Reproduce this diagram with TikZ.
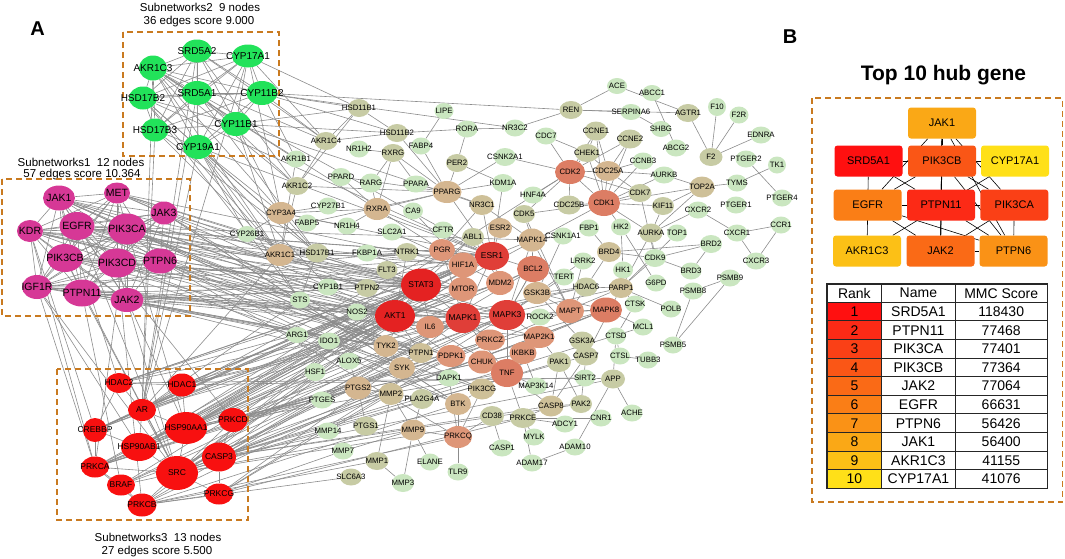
\documentclass[tikz,border=0pt]{standalone}
\usepackage{fontspec}
\setmainfont{Liberation Sans}
\usetikzlibrary{shapes.geometric}
\pgfdeclarelayer{bg}
\pgfsetlayers{bg,main}
\definecolor{kg2}{RGB}{34,226,90}
\definecolor{km1}{RGB}{214,56,150}
\definecolor{kr3}{RGB}{248,16,16}
\definecolor{klg}{RGB}{202,230,192}
\definecolor{kol}{RGB}{199,203,164}
\definecolor{ktan}{RGB}{212,182,144}
\definecolor{kot}{RGB}{206,192,152}
\definecolor{ksa}{RGB}{222,150,120}
\definecolor{ksb}{RGB}{220,125,100}
\definecolor{kra}{RGB}{228,34,34}
\definecolor{krb}{RGB}{224,62,56}
\definecolor{kbox}{RGB}{201,122,32}
\definecolor{kedge}{RGB}{140,140,140}
\definecolor{kr1}{RGB}{255,16,16}
\definecolor{kr2}{RGB}{252,42,22}
\definecolor{kr3b}{RGB}{250,64,22}
\definecolor{kr4}{RGB}{250,86,22}
\definecolor{kr5}{RGB}{250,106,22}
\definecolor{kr6}{RGB}{250,126,22}
\definecolor{kr7}{RGB}{250,146,22}
\definecolor{kr8}{RGB}{250,168,22}
\definecolor{kr9}{RGB}{252,192,22}
\definecolor{kr10}{RGB}{255,224,24}
\newcommand\fsz[1]{\fontsize{#1}{#1}\selectfont}
\tikzset{
 nd/.style={ellipse, inner sep=0pt, draw=none},
 lab/.style={inner sep=0pt, text=black},
 s-g2/.style={fill=kg2}, s-m1/.style={fill=km1}, s-r3/.style={fill=kr3},
 s-lg/.style={fill=klg}, s-ol/.style={fill=kol}, s-tan/.style={fill=ktan},
 s-ot/.style={fill=kot}, s-sa/.style={fill=ksa}, s-sb/.style={fill=ksb},
 s-ra/.style={fill=kra}, s-rb/.style={fill=krb},
 l-g2/.style={font=\fsz{10}}, l-m1/.style={font=\fsz{10.5}}, l-r3/.style={font=\fsz{8.5}},
 l-ra/.style={font=\fsz{8.5}}, l-rb/.style={font=\fsz{8.5}},
 l-lg/.style={font=\fsz{7.8}}, l-ol/.style={font=\fsz{7.8}}, l-tan/.style={font=\fsz{7.8}},
 l-ot/.style={font=\fsz{7.8}}, l-sa/.style={font=\fsz{7.8}}, l-sb/.style={font=\fsz{7.8}},
 lnk/.style={draw=kedge, line width=0.6pt},
 blnk/.style={draw=black, line width=0.6pt},
 dbox/.style={draw=kbox, line width=1.5pt, dash pattern=on 6pt off 4pt},
 hub/.style={rectangle, rounded corners=3pt, minimum width=68pt, minimum height=31pt, inner sep=0pt, font=\fsz{11}},
 tbl/.style={inner sep=0pt, font=\fsz{14}},
 sub/.style={inner sep=0pt, anchor=base, font=\fsz{11.5}}
}
\def\nodesA{SRD5A2/197/51/30/23/g2,
CYP17A1/248/56/32/23/g2,
AKR1C3/153/68/28/25/g2,
SRD5A1/197/93/31/24/g2,
HSD17B2/143/98/28/23/g2,
CYP11B2/262/93/31/24/g2,
HSD17B3/155/130/27/23/g2,
CYP11B1/236/124/30/24/g2,
CYP19A1/198/147/30/24/g2,
JAK1/59/198/32/25/m1,
MET/117/193/26/21/m1,
JAK3/164/213/27/23/m1,
EGFR/77/226/35/28/m1,
PIK3CA/127/229/38/31/m1,
KDR/30/231/26/22/m1,
PIK3CB/65/258/36/28/m1,
PIK3CD/117/263/38/29/m1,
PTPN6/160/261/34/25/m1,
IGF1R/37/287/30/24/m1,
PTPN11/82/293/37/27/m1,
JAK2/127/300/33/24/m1,
HDAC2/119/383/26/20/r3,
HDAC1/182/385/28/23/r3,
AR/142/410/28/22/r3,
CREBBP/95/430/24/24/r3,
HSP90AA1/186/428/42/32/r3,
PRKCD/233/420/29/24/r3,
HSP90AB1/139/447/36/28/r3,
CASP3/219/457/34/29/r3,
PRKCA/95/467/28/21/r3,
SRC/177/473/42/34/r3,
BRAF/121/485/28/21/r3,
PRKCG/219/494/28/21/r3,
PRKCB/142/505/29/23/r3,
HSD11B1/359/108/22/18/ol,
LIPE/444/111/19/16/lg,
AKR1C4/326/141/23/18/ol,
HSD11B2/397/133/22/18/ol,
RORA/467/129/21/17/lg,
NR3C2/515/128/21/17/lg,
NR1H2/359/149/20/17/lg,
RXRG/393/153/23/18/ol,
FABP4/421/146/20/17/lg,
AKR1B1/296/159/20/17/lg,
PER2/457/163/22/18/ol,
CSNK2A1/505/157/22/18/lg,
PPARD/341/177/21/18/lg,
RARG/371/183/22/19/lg,
PPARA/416/184/24/17/lg,
AKR1C2/297/186/23/18/ol,
PPARG/447/192/29/22/tan,
KDM1A/503/183/22/18/lg,
CYP3A4/281/213/28/22/tan,
CYP27B1/328/206/20/17/lg,
RXRA/377/209/27/22/tan,
CA9/413/211/20/17/lg,
NR3C1/482/205/24/20/ot,
FABP5/307/223/20/17/lg,
NR1H4/347/226/20/17/lg,
SLC2A1/392/232/21/17/lg,
CFTR/443/230/21/17/lg,
ESR2/500/228/24/20/tan,
ABL1/473/237/22/18/ol,
CYP26B1/247/234/20/16/lg,
AKR1C1/280/255/28/22/tan,
HSD17B1/317/253/23/19/ol,
FKBP1A/367/253/21/17/lg,
NTRK1/407/252/22/18/ol,
PGR/442/250/26/22/sa,
ESR1/492/256/34/28/rb,
HIF1A/463/265/29/25/sa,
FLT3/387/270/21/18/ol,
CYP1B1/328/287/21/17/lg,
PTPN2/367/288/22/18/ol,
STAT3/421/285/40/33/ra,
MTOR/463/289/29/24/sa,
MDM2/500/283/28/24/sa,
STS/300/300/20/17/lg,
NOS2/357/312/20/17/lg,
AKT1/395/316/40/32/ra,
MAPK1/463/318/35/30/rb,
IL6/430/327/28/22/sa,
MAPK3/507/315/36/30/rb,
ARG1/297/335/22/16/lg,
IDO1/329/341/22/17/lg,
TYK2/386/346/25/22/tan,
PTPN1/421/353/24/20/ot,
PDPK1/451/356/29/22/sa,
PRKCZ/490/340/30/21/sa,
ALOX5/349/361/21/17/lg,
HSF1/315/372/21/18/lg,
SYK/402/368/26/22/tan,
CHUK/482/362/28/23/sa,
TNF/507/373/32/28/sb,
DAPK1/449/378/22/17/lg,
PTGS2/358/388/27/23/tan,
MMP2/391/394/25/22/ot,
PLA2G4A/422/399/23/20/ol,
PIK3CG/482/389/26/21/ot,
BTK/458/404/26/22/tan,
PTGES/322/400/22/17/lg,
CD38/492/416/24/20/ol,
MMP14/328/431/22/17/lg,
PTGS1/366/426/24/19/ol,
MMP9/413/430/25/21/tan,
PRKCQ/458/437/28/22/sa,
CASP1/502/448/22/17/lg,
MMP7/343/451/21/17/lg,
MMP1/377/461/23/18/ol,
ELANE/430/462/20/17/lg,
TLR9/458/472/21/17/lg,
SLC6A3/351/477/22/17/ol,
MMP3/403/483/22/18/lg,
ACE/617/86/20/16/lg,
ABCC1/652/93/20/16/lg,
REN/571/110/23/18/ol,
SERPINA6/631/112/21/16/lg,
AGTR1/688/113/23/18/ol,
F10/717/107/18/18/lg,
F2R/739/115/19/17/lg,
SHBG/661/129/20/16/lg,
CDC7/546/136/21/17/lg,
CCNE1/596/131/23/19/ol,
CCNE2/630/139/24/19/ol,
EDNRA/761/135/21/17/lg,
ABCG2/676/148/21/17/lg,
F2/711/157/23/18/ol,
CHEK1/587/153/24/18/ol,
CCNB3/643/161/21/17/lg,
PTGER2/746/159/21/17/lg,
TK1/777/165/18/17/lg,
CDK2/570/172/30/24/sb,
CDC25A/608/171/26/20/tan,
AURKB/664/175/22/17/lg,
TYMS/737/183/20/17/lg,
TOP2A/702/187/25/21/ot,
CDK7/640/193/23/18/ol,
HNF4A/533/195/21/17/lg,
PTGER4/782/198/20/17/lg,
CDC25B/569/205/24/19/ol,
CDK1/604/203/32/26/sb,
KIF11/663/206/22/18/ol,
CDK5/524/214/22/18/ol,
CXCR2/698/210/21/17/lg,
PTGER1/736/205/21/17/lg,
MAPK14/532/240/27/23/tan,
CSNK1A1/563/236/20/17/lg,
FBP1/589/228/20/17/lg,
HK2/621/227/20/17/lg,
AURKA/651/233/23/19/ol,
TOP1/677/233/20/17/lg,
CXCR1/737/233/21/17/lg,
CCR1/781/225/20/17/lg,
BRD2/711/244/22/18/lg,
BRD4/609/252/24/20/ot,
CDK9/655/258/22/18/lg,
CXCR3/756/261/21/17/lg,
BCL2/533/269/32/26/sb,
LRRK2/583/261/20/17/lg,
HK1/623/270/20/17/lg,
BRD3/691/271/21/17/lg,
TERT/564/277/20/17/lg,
PSMB9/730/278/21/17/lg,
GSK3B/537/293/28/22/tan,
HDAC6/586/287/23/19/ol,
PARP1/621/288/24/20/ot,
G6PD/656/283/20/17/lg,
PSMB8/693/291/21/17/lg,
ROCK2/540/317/21/17/lg,
MAPT/570/311/28/24/sa,
MAPK8/606/310/32/25/sb,
CTSK/635/304/20/17/lg,
POLB/671/309/20/17/lg,
MCL1/643/327/20/17/lg,
MAP2K1/539/337/31/22/sa,
GSK3A/582/341/24/19/ol,
CTSD/616/336/20/17/lg,
PSMB5/673/345/20/17/lg,
IKBKB/523/353/27/22/sa,
PAK1/559/362/24/20/ol,
CASP7/586/356/24/19/ol,
CTSL/620/356/20/17/lg,
TUBB3/648/360/20/17/lg,
SIRT2/585/378/20/17/lg,
APP/613/379/24/19/ol,
MAP3K14/536/386/22/17/lg,
CASP8/551/406/25/21/ot,
PAK2/581/404/22/18/ol,
ACHE/632/413/21/17/lg,
PRKCE/523/418/26/20/ol,
ADCY1/565/424/21/17/lg,
CNR1/601/418/21/17/lg,
MYLK/534/437/21/17/lg,
ADAM10/575/447/21/17/lg,
ADAM17/532/463/21/17/lg}
\begin{document}
\begin{tikzpicture}[x=1pt,y=-1pt]
\useasboundingbox (0,0) rectangle (1065,558);
% panel labels
\node[inner sep=0pt, anchor=base, font=\fsz{20}\bfseries] (labA) at (37.5,35) {A};
\node[inner sep=0pt, anchor=base, font=\fsz{20}\bfseries] (labB) at (790,43) {B};
% subnetwork captions
\node[sub] (s2a) at (200,11) {Subnetworks2\ \ 9 nodes};
\node[sub] (s2b) at (199,24) {36 edges score 9.000};
\node[sub] (s1a) at (81,166) {Subnetworks1\ \ 12 nodes};
\node[sub] (s1b) at (82,177) {57 edges score 10.364};
\node[sub] (s3a) at (158,541) {Subnetworks3\ \ 13 nodes};
\node[sub] (s3b) at (157,554) {27 edges score 5.500};
% dashed boxes
\draw[dbox] (123,32) rectangle (279,156);
\draw[dbox] (2,179) rectangle (190,316);
\draw[dbox] (57,369) rectangle (248,520);
\draw[dbox] (812,98) rectangle (1062.5,502);
% nodes
\foreach \nm/\px/\py/\ww/\hh/\cl in \nodesA {
  \node[nd, s-\cl, minimum width=\ww pt, minimum height=\hh pt] (\nm) at (\px,\py) {};
}
\foreach \nm/\px/\py/\ww/\hh/\cl in \nodesA {
  \node[lab, l-\cl] (\nm-t) at (\nm.center) {\nm};
}
% edges
\begin{pgfonlayer}{bg}
\foreach \a [count=\i] in {SRD5A2,CYP17A1,AKR1C3,SRD5A1,HSD17B2,CYP11B2,HSD17B3,CYP11B1,CYP19A1} {
  \foreach \b [count=\j] in {SRD5A2,CYP17A1,AKR1C3,SRD5A1,HSD17B2,CYP11B2,HSD17B3,CYP11B1,CYP19A1} {
    \ifnum\j>\i \draw[lnk] (\a) -- (\b); \fi
  }
}
\foreach \a [count=\i] in {JAK1,MET,JAK3,EGFR,PIK3CA,KDR,PIK3CB,PIK3CD,PTPN6,IGF1R,PTPN11,JAK2} {
  \foreach \b [count=\j] in {JAK1,MET,JAK3,EGFR,PIK3CA,KDR,PIK3CB,PIK3CD,PTPN6,IGF1R,PTPN11,JAK2} {
    \ifnum\j>\i \draw[lnk] (\a) -- (\b); \fi
  }
}
\foreach \a/\b in {HDAC2/HDAC1,HDAC2/AR,HDAC2/CREBBP,HDAC1/AR,HDAC1/HSP90AA1,AR/HSP90AA1,AR/HSP90AB1,AR/SRC,AR/CREBBP,CREBBP/HSP90AB1,CREBBP/PRKCA,HSP90AA1/SRC,HSP90AA1/HSP90AB1,HSP90AA1/PRKCD,PRKCD/SRC,PRKCD/CASP3,CASP3/SRC,CASP3/PRKCG,PRKCA/SRC,PRKCA/BRAF,PRKCA/PRKCB,BRAF/SRC,BRAF/PRKCB,PRKCG/SRC,PRKCB/SRC,PRKCG/PRKCB,HSP90AB1/SRC}
  \draw[lnk] (\a) -- (\b);
\foreach \a/\b in {KDR/CREBBP,IGF1R/PRKCA,PTPN11/SRC,PIK3CB/SRC,EGFR/SRC,JAK2/SRC,IGF1R/SRC,PTPN11/BRAF,PIK3CA/PRKCA,JAK1/HDAC2,KDR/PRKCA,PIK3CD/PRKCB,EGFR/PRKCD,JAK2/HSP90AA1,PIK3CA/HSP90AA1,IGF1R/HSP90AB1}
  \draw[lnk] (\a) -- (\b);
\foreach \a/\b in {JAK1/STAT3,JAK1/TYK2,JAK1/PTPN2,JAK1/PTPN1,JAK1/IL6,JAK1/AKT1,
MET/AKT1,MET/STAT3,MET/MAPK1,MET/HIF1A,MET/MAPK3,
JAK3/STAT3,JAK3/SYK,JAK3/BTK,JAK3/TYK2,JAK3/PTPN2,
EGFR/STAT3,EGFR/AKT1,EGFR/MAPK1,EGFR/MAPK3,EGFR/ESR1,EGFR/PTPN1,EGFR/MTOR,EGFR/MAPK14,
PIK3CA/AKT1,PIK3CA/MTOR,PIK3CA/PDPK1,PIK3CA/STAT3,PIK3CA/HIF1A,PIK3CA/ESR1,PIK3CA/PTPN1,PIK3CA/PIK3CG,
KDR/AKT1,KDR/HIF1A,KDR/MAPK1,KDR/FLT3,KDR/NOS2,KDR/STAT3,
PIK3CB/AKT1,PIK3CB/MTOR,PIK3CB/PDPK1,PIK3CB/PIK3CG,PIK3CB/MAPK1,
PIK3CD/AKT1,PIK3CD/MTOR,PIK3CD/BTK,PIK3CD/SYK,PIK3CD/PDPK1,PIK3CD/STAT3,
PTPN6/STAT3,PTPN6/SYK,PTPN6/PTPN1,PTPN6/BTK,PTPN6/TYK2,PTPN6/PRKCQ,
IGF1R/AKT1,IGF1R/MAPK1,IGF1R/MAPK3,IGF1R/STAT3,IGF1R/NTRK1,IGF1R/PTPN1,IGF1R/ESR1,
PTPN11/STAT3,PTPN11/MAPK1,PTPN11/MAPK3,PTPN11/PTPN1,PTPN11/MAP2K1,PTPN11/AKT1,
JAK2/STAT3,JAK2/TYK2,JAK2/PTPN1,JAK2/PTPN2,JAK2/MAPK1,JAK2/IL6,JAK2/SYK,JAK2/ESR1,JAK2/IDO1}
  \draw[lnk] (\a) -- (\b);
\foreach \a/\b in {HDAC2/STAT3,HDAC2/ESR1,HDAC2/HIF1A,HDAC2/HDAC6,HDAC2/SIRT2,HDAC2/MTOR,
HDAC1/STAT3,HDAC1/ESR1,HDAC1/MDM2,HDAC1/HDAC6,HDAC1/HIF1A,HDAC1/SIRT2,HDAC1/PARP1,
AR/ESR1,AR/PGR,AR/AKT1,AR/MAPK1,AR/MDM2,AR/AKR1C1,AR/STS,
CREBBP/STAT3,CREBBP/ESR1,CREBBP/HIF1A,CREBBP/MDM2,CREBBP/AKT1,CREBBP/ARG1,
HSP90AA1/AKT1,HSP90AA1/STAT3,HSP90AA1/ESR1,HSP90AA1/HIF1A,HSP90AA1/BCL2,HSP90AA1/CDK1,HSP90AA1/MTOR,HSP90AA1/CHUK,HSP90AA1/IKBKB,HSP90AA1/HSF1,HSP90AA1/NOS2,HSP90AA1/TNF,
PRKCD/MAPK1,PRKCD/MAPK3,PRKCD/PDPK1,PRKCD/PRKCZ,PRKCD/STAT3,PRKCD/MAPK8,PRKCD/PTGS2,PRKCD/PTGES,
HSP90AB1/AKT1,HSP90AB1/STAT3,HSP90AB1/HIF1A,HSP90AB1/CDK2,HSP90AB1/ESR1,HSP90AB1/HSF1,
CASP3/BCL2,CASP3/MAPK8,CASP3/CASP8,CASP3/CASP7,CASP3/AKT1,CASP3/TNF,CASP3/PARP1,CASP3/MCL1,CASP3/MAPK1,CASP3/PAK2,CASP3/APP,
PRKCA/MAPK1,PRKCA/MAPK3,PRKCA/AKT1,PRKCA/PDPK1,PRKCA/PRKCZ,PRKCA/PTGS2,PRKCA/STAT3,PRKCA/ALOX5,
SRC/STAT3,SRC/AKT1,SRC/MAPK1,SRC/MAPK3,SRC/ESR1,SRC/PTPN1,SRC/ABL1,SRC/MAPK8,SRC/PAK1,SRC/PRKCE,SRC/MMP9,SRC/MMP2,SRC/MMP14,
BRAF/MAPK1,BRAF/MAP2K1,BRAF/MAPK3,BRAF/AKT1,
PRKCG/MAPK1,PRKCG/MAPK3,PRKCG/PDPK1,PRKCG/PRKCE,PRKCG/MMP7,
PRKCB/MAPK1,PRKCB/AKT1,PRKCB/PDPK1,PRKCB/BTK,PRKCB/PRKCQ,PRKCB/SLC6A3,PRKCB/MMP1}
  \draw[lnk] (\a) -- (\b);
\foreach \a/\b in {CYP19A1/ESR1,CYP19A1/AKR1C1,CYP19A1/CYP3A4,CYP19A1/HSD17B1,CYP19A1/CYP1B1,CYP19A1/STS,CYP19A1/AR,CYP19A1/CYP26B1,
CYP11B1/HSD11B1,CYP11B1/HSD11B2,CYP11B1/CYP3A4,CYP11B1/NR3C1,CYP11B1/AKR1C1,
CYP11B2/HSD11B2,CYP11B2/HSD11B1,CYP11B2/REN,CYP11B2/AKR1C4,CYP11B2/NR3C2,CYP11B2/AKR1B1,
SRD5A1/AR,SRD5A1/AKR1C2,SRD5A1/HSD17B1,SRD5A1/ESR1,
SRD5A2/AR,SRD5A2/AKR1C2,SRD5A2/AKR1C4,
AKR1C3/AKR1C1,AKR1C3/AKR1C2,AKR1C3/AKR1C4,AKR1C3/HSD17B1,AKR1C3/AR,AKR1C3/PGR,AKR1C3/AKR1B1,
HSD17B2/HSD17B1,HSD17B2/ESR1,HSD17B2/STS,HSD17B2/AKR1C1,
HSD17B3/AR,HSD17B3/HSD17B1,HSD17B3/AKR1C1,
CYP17A1/AKR1C4,CYP17A1/CYP3A4,CYP17A1/AR,CYP17A1/HSD11B1}
  \draw[lnk] (\a) -- (\b);
\foreach \a/\b in {HSD11B1/HSD11B2,HSD11B1/AKR1C2,HSD11B1/AKR1C4,HSD11B2/RORA,HSD11B2/AKR1C4,HSD11B2/PPARG,
LIPE/FABP4,FABP4/PPARG,RORA/PER2,RORA/NR3C2,PER2/PPARG,PER2/KDM1A,
NR1H2/RXRG,RXRG/RARG,RXRG/PPARA,RXRG/RXRA,RXRG/PPARG,RARG/RXRA,PPARD/RXRA,PPARD/PPARG,PPARA/PPARG,
PPARG/NR3C1,PPARG/KDM1A,PPARG/RXRA,PPARG/CSNK2A1,PPARG/ESR1,AKR1C2/AKR1C1,AKR1C2/PPARG,AKR1C4/AKR1C2,
AKR1B1/AKR1C1,CYP3A4/RXRA,CYP3A4/NR1H4,CYP3A4/ESR1,CYP27B1/CYP3A4,RXRA/NR1H4,RXRA/ESR1,
CA9/HIF1A,SLC2A1/HIF1A,CFTR/HIF1A,NR3C1/ESR1,NR3C1/PGR,NR3C1/MAPK14,ESR2/ESR1,ABL1/MDM2,ABL1/STAT3,
KDM1A/ESR1,NR3C2/REN,FKBP1A/MTOR,NTRK1/AKT1,FLT3/STAT3,PTPN2/STAT3,PGR/ESR1,PGR/MAPK1,
HIF1A/STAT3,HIF1A/MTOR,HIF1A/MDM2,MTOR/AKT1,STAT3/AKT1,STAT3/MAPK1,STAT3/ESR1,STAT3/IL6,
AKT1/MAPK1,AKT1/MTOR,AKT1/IL6,MAPK1/MAPK3,MAPK1/ESR1,ESR1/MDM2,ESR1/BCL2,ESR1/MAPK14,MAPK3/BCL2,MAPK3/GSK3B,
NOS2/AKT1,ARG1/NOS2,STS/HSD17B1,HSD17B1/ESR1,AKR1C1/ESR1,AKR1C1/PGR,AKR1C1/HSD17B1,CYP26B1/CYP3A4,CYP1B1/ESR1,FABP5/PPARG,STAT3/IDO1,
CDC7/CDK2,CDC7/CHEK1,CCNE1/CHEK1,CCNE1/CDC25A,CCNE1/CDK1,CCNE1/CDK2,CCNE2/CDK2,CCNE2/CDC25A,CCNE2/CDK1,
CHEK1/CDK2,CHEK1/CDC25A,CHEK1/CDK1,CCNB3/CDC25A,CCNB3/CDK1,CDK2/CDC25A,CDK2/CDK1,CDK2/HNF4A,CDK2/CDC25B,CDK2/CDK7,
AURKB/TOP2A,AURKB/CDC25A,AURKB/CDK1,TOP2A/TYMS,TYMS/TK1,PTGER2/PTGER4,TOP2A/KIF11,TOP2A/AURKA,TOP2A/CDK1,
CDK7/CDK1,CDK7/CDK9,CDC25A/CDK1,CDC25A/CDK7,CDK2/CDK5,CSNK2A1/CDK2,
ACE/REN,ACE/AGTR1,ABCC1/ABCG2,REN/SERPINA6,SERPINA6/SHBG,REN/AGTR1,AGTR1/F2,F10/F2,F2R/F2,EDNRA/F2,
CDC25B/CDK1,CDK1/KIF11,CDK1/AURKA,CDK1/CDK5,CDK5/MAPK14,CDK5/MAPT,CXCR2/CXCR1,CXCR2/AURKA,CXCR1/CCR1,CXCR1/CXCR3,CCR1/CXCR3,
BRD2/BRD4,BRD2/CDK9,BRD2/BRD3,BRD3/CDK9,BRD4/CDK9,BRD4/HDAC6,HK2/HK1,HK2/G6PD,AURKA/CDK9,AURKA/PARP1,TOP1/PARP1,
PARP1/POLB,PARP1/HDAC6,PARP1/CTSK,CDK9/PARP1,HDAC6/MAPT,HDAC6/GSK3B,LRRK2/MAPT,LRRK2/GSK3B,TERT/BCL2,TERT/MAPK3,
MAPK14/BCL2,MAPK14/MAPK3,MAPK14/MAPT,CSNK1A1/MAPK14,CSNK1A1/GSK3B,BCL2/MAPK3,BCL2/MDM2,GSK3B/MAPT,GSK3B/MAPK8,
MAPT/MAPK8,MAPK8/MAPK3,MAPK8/MAP2K1,PSMB8/PSMB9,PSMB8/PSMB5,PSMB9/PSMB5,CTSK/CTSD,MCL1/MAPK8,KIF11/AURKA,HK2/CDK1,FBP1/BRD4,ROCK2/MAPT,
MAP2K1/MAPK1,MAP2K1/MAPK3,MAP2K1/PAK1,GSK3A/CASP7,GSK3A/GSK3B,CTSD/CTSL,CTSD/APP,CTSL/TUBB3,CASP7/CASP8,CASP7/PAK2,CASP7/PARP1,
PAK1/PAK2,PAK1/CASP8,IKBKB/TNF,IKBKB/CHUK,IKBKB/MAP3K14,TNF/MAP3K14,TNF/CASP8,TNF/PRKCE,SIRT2/APP,APP/ACHE,APP/ADAM10,
CASP8/PAK2,PRKCE/ADCY1,PRKCE/MYLK,PRKCE/ADAM17,ADAM17/ADAM10,PRKCE/CASP8,PRKCE/CNR1,
TYK2/STAT3,TYK2/SYK,PTPN1/AKT1,PDPK1/AKT1,PDPK1/PRKCZ,PRKCZ/MAPK1,CHUK/TNF,PTGS2/PTGS1,PTGS2/MMP2,PTGS2/ALOX5,PTGS2/PLA2G4A,
MMP2/MMP9,MMP2/MMP1,MMP9/MMP3,MMP9/ELANE,MMP9/MMP7,MMP1/MMP3,MMP14/MMP2,BTK/PRKCQ,BTK/SYK,BTK/PIK3CG,PRKCQ/TLR9,PRKCQ/PIK3CG,
PRKCQ/CD38,PRKCQ/MMP9,PTGES/PTGS2,DAPK1/PRKCQ,PIK3CG/TNF,SYK/PTPN1,IL6/TNF,TNF/MAPK1,TNF/MAPK3,CD38/CASP1,PLA2G4A/MMP9}
  \draw[lnk] (\a) -- (\b);
\end{pgfonlayer}
% Panel B
\node[inner sep=0pt, anchor=base, font=\fsz{21}\bfseries] (ttl) at (943.5,80) {Top 10 hub gene};
\node[hub, fill=kr8] (bJAK1) at (942,123) {JAK1};
\node[hub, fill=kr1] (bSRD5A1) at (868.5,161) {SRD5A1};
\node[hub, fill=kr4] (bPIK3CB) at (942,161) {PIK3CB};
\node[hub, fill=kr10] (bCYP17A1) at (1015,161) {CYP17A1};
\node[hub, fill=kr6] (bEGFR) at (867.7,205) {EGFR};
\node[hub, fill=kr2] (bPTPN11) at (941,205) {PTPN11};
\node[hub, fill=kr3b] (bPIK3CA) at (1014.3,205) {PIK3CA};
\node[hub, fill=kr9] (bAKR1C3) at (867,251) {AKR1C3};
\node[hub, fill=kr5] (bJAK2) at (940.5,251) {JAK2};
\node[hub, fill=kr7] (bPTPN6) at (1013.5,251) {PTPN6};
\begin{pgfonlayer}{bg}
\foreach \a [count=\i] in {bJAK1,bPIK3CB,bEGFR,bPTPN11,bPIK3CA,bJAK2,bPTPN6} {
  \foreach \b [count=\j] in {bJAK1,bPIK3CB,bEGFR,bPTPN11,bPIK3CA,bJAK2,bPTPN6} {
    \ifnum\j>\i \draw[blnk] (\a) -- (\b); \fi
  }
}
\foreach \a/\b in {bSRD5A1/bCYP17A1,bSRD5A1/bAKR1C3,bCYP17A1/bAKR1C3,bSRD5A1/bPTPN11}
  \draw[blnk] (\a) -- (\b);
\end{pgfonlayer}
% table
\foreach \cc [count=\i] in {kr1,kr2,kr3b,kr4,kr5,kr6,kr7,kr8,kr9,kr10}
  \fill[\cc] (827,{302.3+18.6*(\i-1)}) rectangle (881.7,{302.3+18.6*\i});
\foreach \i in {0,...,9}
  \draw[line width=1pt, black!85] (827,{302.3+18.6*\i}) -- (1047.3,{302.3+18.6*\i});
\draw[line width=1pt, black!85] (881.7,284) -- (881.7,488.3);
\draw[line width=1pt, black!85] (955,284) -- (955,488.3);
\draw[line width=1.6pt, black!85] (827,284) rectangle (1047.3,488.3);
\node[tbl] (h1) at (854.4,293.2) {Rank};
\node[tbl] (h2) at (918.4,293.2) {Name};
\node[tbl] (h3) at (1001.2,293.2) {MMC Score};
\foreach \g/\s [count=\i] in {SRD5A1/118430,PTPN11/77468,PIK3CA/77401,PIK3CB/77364,JAK2/77064,EGFR/66631,PTPN6/56426,JAK1/56400,AKR1C3/41155,CYP17A1/41076} {
  \node[tbl] (rk\i) at (854.4,{302.3+18.6*(\i-0.5)}) {\i};
  \node[tbl] (nm\i) at (918.4,{302.3+18.6*(\i-0.5)}) {\g};
  \node[tbl] (sc\i) at (1001.2,{302.3+18.6*(\i-0.5)}) {\s};
}
\end{tikzpicture}
\end{document}
